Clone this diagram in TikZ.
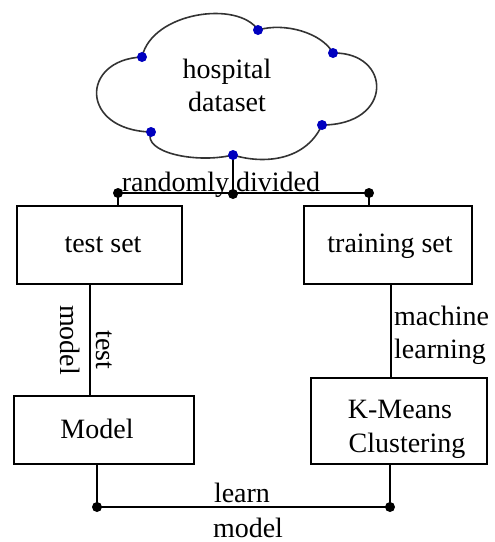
\documentclass[tikz,border=0pt]{standalone}
\usepackage{fontspec}
\setmainfont{Liberation Serif}
\begin{document}
\begin{tikzpicture}[x=1pt,y=-1pt,
  conn/.style={line width=1.6pt},
  lbl/.style={font=\fontsize{28}{33}\selectfont,inner sep=0pt},
  bdot/.style={circle,fill=blue!75!black,inner sep=0pt,minimum size=10pt},
  kdot/.style={circle,fill=black,inner sep=0pt,minimum size=10pt}]
\useasboundingbox (0,0) rectangle (495,542);
% cloud
\coordinate (A) at (142,57);
\coordinate (B) at (258,30);
\coordinate (C) at (333,53);
\coordinate (D) at (322,125);
\coordinate (E) at (233,155);
\coordinate (F) at (151,132);
\draw[line width=1.6pt,black!80] (A) .. controls (152,12) and (238,0) .. (B)
  .. controls (285,22) and (322,33) .. (C)
  .. controls (392,52) and (394,125) .. (D)
  .. controls (305,162) and (262,164) .. (E)
  .. controls (195,164) and (142,152) .. (F)
  .. controls (80,130) and (80,60) .. (A) -- cycle;
\node[lbl,anchor=base] (h1) at (227,78) {hospital};
\node[lbl,anchor=base] (h2) at (227,111) {dataset};
% split
\coordinate (S) at (233,194);
\coordinate (SL) at (118,193);
\coordinate (SR) at (369,193);
\draw[conn] (E) -- (S);
\draw[conn] (SL) -- (SR);
\node[lbl,anchor=base] (rd) at (221,191) {randomly divided};
% boxes
\draw[conn] (17,206) rectangle (182,284);
\node[lbl,anchor=base] (test) at (103,252) {test set};
\draw[conn] (304,206) rectangle (472,284);
\node[lbl,anchor=base] (train) at (390,252) {training set};
\draw[conn] (14,396) rectangle (194,464);
\node[lbl,anchor=base] (model) at (97,438) {Model};
\draw[conn] (311,378) rectangle (487,464);
\node[lbl,anchor=base] (km1) at (400,418) {K-Means};
\node[lbl,anchor=base] (km2) at (407,452) {Clustering};
\draw[conn] (SL) -- (118,206);
\draw[conn] (SR) -- (369,206);
% middle connectors
\draw[conn] (90,284) -- (90,396);
\node[lbl,rotate=-90] (m1) at (70,340) {model};
\node[lbl,rotate=-90] (t1) at (104,350) {test};
\draw[conn] (391,284) -- (391,378);
\node[lbl,anchor=base west] (ml1) at (394,325) {machine};
\node[lbl,anchor=base west] (ml2) at (394,358) {learning};
% bottom
\coordinate (BL) at (97,507);
\coordinate (BR) at (390,507);
\draw[conn] (97,464) -- (BL) -- (BR) -- (390,464);
\node[lbl,anchor=base] (lr) at (242,502) {learn};
\node[lbl,anchor=base] (lm) at (248,537) {model};
% dots
\foreach \p in {A,B,C,D,E,F} \node[bdot] at (\p) {};
\foreach \p in {S,SL,SR,BL,BR} \node[kdot] at (\p) {};
\end{tikzpicture}
\end{document}
